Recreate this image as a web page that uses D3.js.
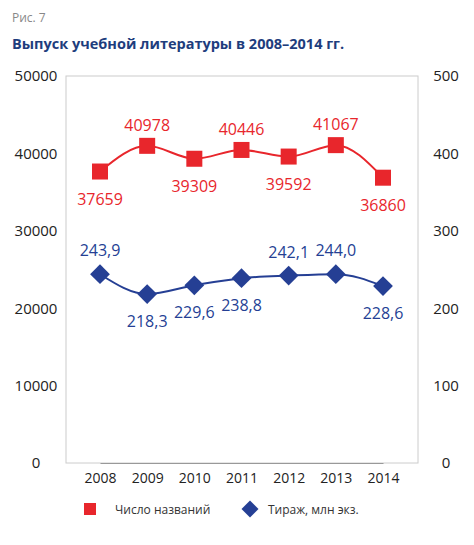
<!DOCTYPE html>
<html><head><meta charset="utf-8">
<script src="https://cdn.jsdelivr.net/npm/d3@7"></script>
<style>body{margin:0;background:#fff;font-family:"Open Sans",sans-serif}</style>
</head><body><svg id="c" width="474" height="545"></svg>
<script>
const years=["2008","2009","2010","2011","2012","2013","2014"];
const titles=[37659,40978,39309,40446,39592,41067,36860];
const circ=[243.9,218.3,229.6,238.8,242.1,244.0,228.6];
const circLabels=["243,9","218,3","229,6","238,8","242,1","244,0","228,6"];
const leftTicks=[0,10000,20000,30000,40000,50000];
const rightTicks=[0,100,200,300,400,500];
const titlePos=["b","a","b","a","b","a","b"];
const circPos=["a","b","b","b","a","a","b"];
const RED="#e8262c",BLUE="#253f94";
const svg=d3.select("#c");
const L=66,R=418,T=76,B=463;
const x=d3.scalePoint().domain(years).range([100,383]);
const yl=d3.scaleLinear().domain([0,50000]).range([B,T]);
const yr=d3.scaleLinear().domain([0,500]).range([B,T]);
svg.append("text").attr("x",12).attr("y",22).attr("fill","#888").attr("font-size",12).text("Рис. 7");
svg.append("text").attr("x",12).attr("y",49).attr("fill","#1e3d7d").attr("font-size",14.5).attr("font-weight","bold").text("Выпуск учебной литературы в 2008–2014 гг.");
svg.append("rect").attr("x",L).attr("y",T).attr("width",R-L).attr("height",B-T).attr("fill","none").attr("stroke","#ccc");
const ax=svg.append("g").attr("transform",`translate(0,${B})`).call(d3.axisBottom(x).tickSize(0).tickPadding(10));
ax.select(".domain").attr("stroke","#999");
ax.selectAll("text").attr("font-size",14).attr("fill","#222").attr("font-family","Open Sans");
const al=svg.append("g").attr("transform",`translate(${L},0)`).call(d3.axisLeft(yl).tickValues(leftTicks).tickSize(0).tickPadding(10).tickFormat(d3.format("d")));
al.select(".domain").remove();
al.selectAll("text").attr("font-size",15).attr("fill","#222").attr("font-family","Open Sans").attr("text-anchor","middle").attr("dx",-20);
const ar=svg.append("g").attr("transform",`translate(${R},0)`).call(d3.axisRight(yr).tickValues(rightTicks).tickSize(0).tickPadding(10));
ar.select(".domain").remove();
ar.selectAll("text").attr("font-size",15).attr("fill","#222").attr("font-family","Open Sans").attr("text-anchor","middle").attr("dx",18);
const lr=d3.line().x((d,i)=>x(years[i])).y(d=>yl(d)).curve(d3.curveMonotoneX);
const lb=d3.line().x((d,i)=>x(years[i])).y(d=>yr(d)).curve(d3.curveMonotoneX);
svg.append("path").attr("d",lr(titles)).attr("fill","none").attr("stroke",RED).attr("stroke-width",2);
svg.append("path").attr("d",lb(circ)).attr("fill","none").attr("stroke",BLUE).attr("stroke-width",2);
svg.selectAll(".sq").data(titles).join("rect").attr("x",(d,i)=>x(years[i])-8).attr("y",d=>yl(d)-8).attr("width",16).attr("height",16).attr("fill",RED);
svg.selectAll(".dm").data(circ).join("rect").attr("x",-7).attr("y",-7).attr("width",14).attr("height",14).attr("fill",BLUE)
 .attr("transform",(d,i)=>`translate(${x(years[i])},${yr(d)}) rotate(45)`);
svg.selectAll(".tl").data(titles).join("text").attr("x",(d,i)=>x(years[i])).attr("y",(d,i)=>yl(d)+(titlePos[i]=="a"?-15:33))
 .attr("text-anchor","middle").attr("font-size",16).attr("fill",RED).text(d=>d);
svg.selectAll(".cl").data(circ).join("text").attr("x",(d,i)=>x(years[i])).attr("y",(d,i)=>yr(d)+(circPos[i]=="a"?-18:33))
 .attr("text-anchor","middle").attr("font-size",16).attr("fill",BLUE).text((d,i)=>circLabels[i]);
svg.append("rect").attr("x",84).attr("y",503).attr("width",12).attr("height",12).attr("fill",RED);
svg.append("text").attr("x",115).attr("y",514).attr("font-size",12).attr("fill","#333").text("Число названий");
svg.append("rect").attr("x",-6).attr("y",-6).attr("width",12).attr("height",12).attr("fill",BLUE).attr("transform","translate(250,509) rotate(45)");
svg.append("text").attr("x",268).attr("y",514).attr("font-size",12).attr("fill","#333").text("Тираж, млн экз.");
</script></body></html>
